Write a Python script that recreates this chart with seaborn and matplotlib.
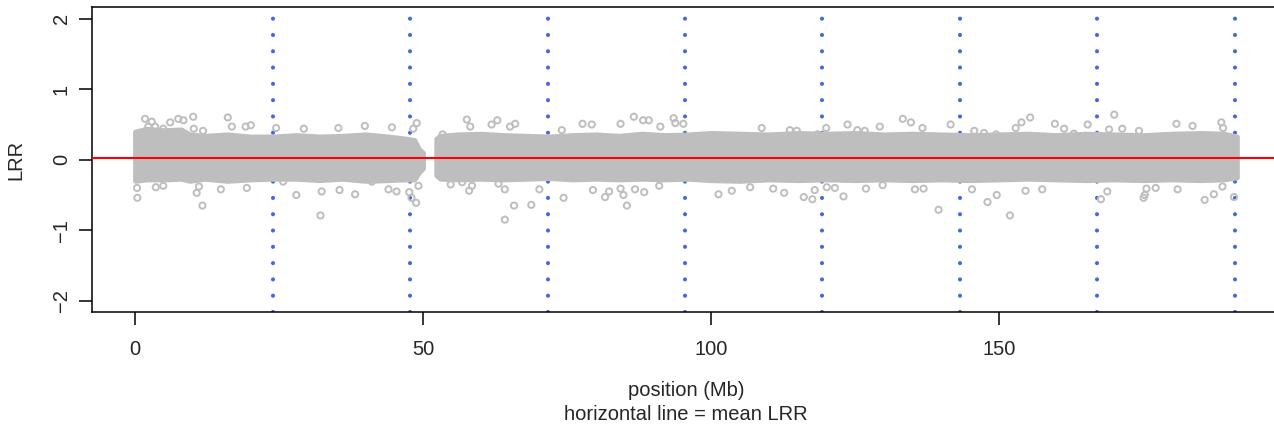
import matplotlib
matplotlib.use("Agg")
import matplotlib.pyplot as plt
import seaborn as sns
import pandas as pd

# LRR along the chromosome; the dense core is given as an envelope,
# the sparse points outside it are listed one by one
seg1_pos = [0.0, 2, 5, 8, 9.5, 12, 16, 20, 24, 28, 32, 36, 40, 44, 47, 48.5, 49.3, 50.0]
seg1_hi = [0.40, 0.44, 0.42, 0.43, 0.36, 0.34, 0.36, 0.33, 0.33, 0.35, 0.33, 0.34, 0.36, 0.33, 0.30, 0.28, 0.15, 0.10]
seg1_lo = [-0.30, -0.28, -0.28, -0.27, -0.30, -0.27, -0.30, -0.28, -0.27, -0.27, -0.29, -0.27, -0.30, -0.29, -0.28, -0.28, -0.18, -0.12]

seg2_pos = [52.3, 53, 56, 60, 64, 68, 72, 76, 80, 84, 88, 92, 96, 100, 105, 110, 115, 120,
            125, 130, 135, 140, 145, 150, 155, 160, 165, 170, 175, 180, 185, 189, 191.3]
seg2_hi = [0.30, 0.34, 0.36, 0.37, 0.35, 0.34, 0.33, 0.35, 0.36, 0.34, 0.37, 0.35, 0.36, 0.38, 0.37, 0.36, 0.38, 0.37,
           0.38, 0.36, 0.37, 0.36, 0.35, 0.36, 0.37, 0.35, 0.37, 0.36, 0.35, 0.37, 0.38, 0.37, 0.33]
seg2_lo = [-0.22, -0.27, -0.28, -0.27, -0.28, -0.27, -0.26, -0.28, -0.27, -0.28, -0.27, -0.28, -0.27, -0.29, -0.30, -0.28, -0.29, -0.28,
           -0.29, -0.28, -0.29, -0.28, -0.29, -0.28, -0.27, -0.28, -0.29, -0.28, -0.29, -0.28, -0.29, -0.28, -0.25]

out_pos = [1.74, 2.9, 3.5, 2.3, 4.9, 6.1, 7.5, 8.4, 10.1, 10.2, 11.8, 16.1, 16.8, 19.2, 20.1, 24.5, 29.3, 35.3, 39.9, 44.6, 48.9, 48.3,
           0.4, 0.35, 3.6, 4.9, 10.7, 11.1, 11.7, 14.9, 19.4, 25.7, 28.0, 32.4, 32.2, 35.5, 38.2, 41.1, 44.0, 45.4, 47.6, 48.8, 48.0, 49.2,
           53.4, 57.6, 58.2, 61.9, 62.9, 65.1, 66.0, 74.1, 77.7, 79.3, 84.3, 86.6, 88.2, 89.2, 91.2, 93.5, 93.8, 95.2,
           54.8, 56.8, 58.0, 58.5, 63.1, 64.2, 65.8, 68.8, 64.2, 70.2, 74.4, 79.5, 81.6, 82.3, 84.3, 84.8, 85.4, 86.8, 88.4, 91.0,
           108.8, 113.7, 114.9, 118.5, 120.0, 123.7, 125.4, 126.7, 129.3, 133.3, 134.7, 136.7, 141.6, 145.7, 147.4, 149.5,
           101.3, 103.6, 106.8, 110.8, 112.7, 116.1, 117.6, 118.0, 120.1, 121.5, 123.0, 126.9, 129.8, 135.4, 136.9, 139.5, 145.3, 148.0, 149.6,
           152.9, 153.9, 155.4, 159.7, 161.3, 163.0, 165.4, 170.0, 169.1, 171.4, 174.3, 180.8, 183.6, 188.6, 188.9,
           151.9, 154.6, 157.5, 167.7, 168.8, 175.1, 175.3, 175.6, 177.2, 181.0, 185.7, 187.3, 188.8, 190.8]
out_lrr = [0.58, 0.54, 0.47, 0.47, 0.44, 0.53, 0.58, 0.56, 0.61, 0.44, 0.41, 0.60, 0.47, 0.47, 0.49, 0.45, 0.44, 0.45, 0.48, 0.46, 0.52, 0.44,
           -0.54, -0.40, -0.39, -0.37, -0.47, -0.38, -0.65, -0.42, -0.40, -0.31, -0.50, -0.45, -0.79, -0.43, -0.49, -0.31, -0.42, -0.45, -0.46, -0.61, -0.54, -0.37,
           0.36, 0.57, 0.47, 0.50, 0.56, 0.47, 0.51, 0.42, 0.51, 0.50, 0.51, 0.61, 0.56, 0.56, 0.47, 0.59, 0.52, 0.51,
           -0.35, -0.32, -0.44, -0.37, -0.34, -0.42, -0.65, -0.64, -0.85, -0.42, -0.54, -0.43, -0.53, -0.45, -0.41, -0.50, -0.65, -0.42, -0.46, -0.37,
           0.45, 0.42, 0.41, 0.36, 0.45, 0.50, 0.42, 0.41, 0.47, 0.58, 0.53, 0.45, 0.50, 0.41, 0.38, 0.36,
           -0.49, -0.44, -0.39, -0.41, -0.47, -0.53, -0.56, -0.43, -0.39, -0.40, -0.52, -0.41, -0.36, -0.42, -0.41, -0.71, -0.42, -0.60, -0.50,
           0.45, 0.53, 0.60, 0.51, 0.44, 0.37, 0.50, 0.64, 0.43, 0.44, 0.41, 0.51, 0.48, 0.53, 0.45,
           -0.79, -0.44, -0.42, -0.56, -0.45, -0.54, -0.50, -0.41, -0.40, -0.42, -0.57, -0.49, -0.38, -0.53]

mean_lrr = 0.024
boundaries = [24.0, 47.8, 71.7, 95.5, 119.3, 143.2, 167.0, 191.0]
xticks = [0, 50, 100, 150]
yticks = [-2, -1, 0, 1, 2]

gray = "#BEBEBE"

sns.set_style("ticks")
plt.rcParams["font.family"] = ["Liberation Sans", "DejaVu Sans"]
plt.rcParams["axes.linewidth"] = 1.1

fig = plt.figure(figsize=(12.74, 4.25), dpi=100)
ax = fig.add_axes([0.072, 0.2659, 0.9335, 0.7165])

for b in boundaries:
    ax.axvline(b, color="#4169E1", lw=3.0, ls=(0, (0.001, 3.91)),
               dash_capstyle="round", zorder=1)

for p, hi, lo in [(seg1_pos, seg1_hi, seg1_lo), (seg2_pos, seg2_hi, seg2_lo)]:
    ax.fill_between(p, lo, hi, color=gray, lw=3.5, zorder=2)

outliers = pd.DataFrame({"pos": out_pos, "lrr": out_lrr})
sns.scatterplot(data=outliers, x="pos", y="lrr", ax=ax, marker="o", s=20,
                facecolor="none", edgecolor=gray, linewidth=1.4, zorder=2)

ax.axhline(mean_lrr, color="red", lw=1.5, zorder=3)

ax.set_xlim(-7.52, 198.96)
ax.set_ylim(-2.16, 2.16)
ax.set_xticks(xticks)
ax.set_yticks(yticks)
ax.set_xticklabels([str(t) for t in xticks])
ax.set_yticklabels([str(t).replace("-", "\u2212") for t in yticks], rotation=90, va="center")
ax.tick_params(axis="both", length=9.1, width=1.1, labelsize=14.5, color="black")
ax.tick_params(axis="x", pad=11)
ax.tick_params(axis="y", pad=6)
ax.set_xlabel("")
ax.set_ylabel("")
for s in ax.spines.values():
    s.set_color("black")
ax.spines["right"].set_visible(False)

fig.text(16 / 1274, 1 - 160 / 425, "LRR", rotation=90, ha="center", va="center", fontsize=14.5)
fig.text(686 / 1274, 1 - 390 / 425, "position (Mb)", ha="center", va="center", fontsize=14.5)
fig.text(686 / 1274, 1 - 414 / 425, "horizontal line = mean LRR", ha="center", va="center", fontsize=14.5)

fig.savefig("out.png", dpi=100)
